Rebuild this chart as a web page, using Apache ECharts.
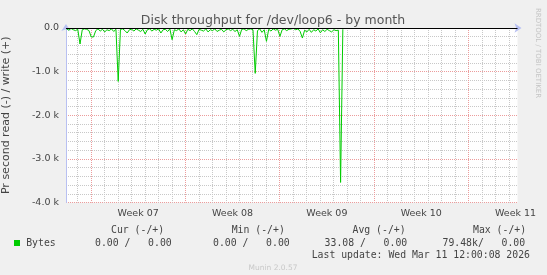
<!DOCTYPE html>
<html><head><meta charset="utf-8">
<script src="https://cdn.jsdelivr.net/npm/echarts@6/dist/echarts.min.js"></script>
<style>html,body{margin:0;padding:0;background:#f0f0f0}#c{width:547px;height:275px}</style>
</head><body><div id="c"></div>
<script>
// ---- data ----
const titleText = 'Disk throughput for /dev/loop6 - by month';
const yAxisName = 'Pr second read (-) / write (+)';
const weekLabels = ['Week 07', 'Week 08', 'Week 09', 'Week 10', 'Week 11'];
const weekStarts = [1.855, 8.855, 15.855, 22.855, 29.855]; // days from left plot edge
const xMax = 33.5;                       // days shown
const yTicks = [0, -1000, -2000, -3000, -4000];
const sampleStart = 0.04;                // days
const sampleStep = 1 / 6;                // 4 hour samples
const readBytes = [
  -20, -50, -10, -40, -60, -30, -367, -40, -20, -30,
  -60, -206, -206, -60, -20, -70, -30, -90, -40, -60,
  -20, -80, -30, -1225, -30, -20, -60, -115, -40, -30,
  -70, -20, -50, -80, -30, -138, -40, -20, -70, -30,
  -50, -20, -115, -40, -30, -80, -20, -268, -40, -60,
  -20, -90, -40, -138, -30, -60, -20, -80, -153, -30,
  -50, -70, -20, -90, -40, -60, -20, -80, -50, -30,
  -90, -40, -20, -60, -30, -80, -40, -192, -30, -20,
  -60, -30, -20, -40, -1040, -60, -20, -100, -40, -306,
  -30, -70, -20, -50, -30, -192, -40, -20, -60, -30,
  -20, -10, -40, -20, -80, -230, -50, -90, -30, -100,
  -40, -70, -20, -110, -40, -80, -30, -60, -90, -40,
  -60, -50, -3540, -30
];
const legendName = 'Bytes';
const legendHeaders = ['Cur (-/+)', 'Min (-/+)', 'Avg (-/+)', 'Max (-/+)'];
const legendValues = ['0.00 /   0.00', '0.00 /   0.00', '33.08 /   0.00', '79.48k/   0.00'];
const lastUpdate = 'Last update: Wed Mar 11 12:00:08 2026';
const muninVersion = 'Munin 2.0.57';
const rrdText = 'RRDTOOL / TOBI OETIKER';

// ---- derived ----
const seriesData = readBytes.map((v, i) => [sampleStart + i * sampleStep, v]);
const weekMids = weekStarts.map(w => w + 3.5);
const dayLines = [];
for (let d = weekStarts[0] - 7; d <= xMax; d += 1) {
  if (d >= 0 && !weekStarts.some(w => Math.abs(w - d) < 1e-6)) dayLines.push(d);
}

const txt = '#444';
const sans = 'DejaVu Sans';
const axisColor = '#b8c0f2';
const minorColor = '#c8c8c8';
const majorColor = '#ec9c9c';

const chart = echarts.init(document.getElementById('c'), null, {renderer: 'canvas'});
const monoText = (x, y, s, align) => ({
  type: 'text', x: x, y: y,
  style: {text: s, fill: txt, font: '9.8px "DejaVu Sans Mono"', textAlign: align || 'left', textVerticalAlign: 'middle'}
});
const graphics = [
  {type: 'text', x: 273, y: 20.5, style: {text: titleText, fill: '#555', font: '12.5px "DejaVu Sans"', textAlign: 'center', textVerticalAlign: 'middle'}},
  {type: 'text', x: 538, y: 53, rotation: -Math.PI / 2, style: {text: rrdText, fill: '#c4c4c4', font: '7px "DejaVu Sans"', textAlign: 'center', textVerticalAlign: 'middle'}},
  {type: 'rect', shape: {x: 14, y: 240, width: 6, height: 6}, style: {fill: '#00cc00'}},
  monoText(26.2, 243, legendName),
  monoText(111, 230.5, legendHeaders[0]),
  monoText(231.7, 230.5, legendHeaders[1]),
  monoText(352.5, 230.5, legendHeaders[2]),
  monoText(473, 230.5, legendHeaders[3]),
  monoText(95, 243, legendValues[0]),
  monoText(213, 243, legendValues[1]),
  monoText(324.6, 243, legendValues[2]),
  monoText(442.5, 243, legendValues[3]),
  monoText(311.7, 255.3, lastUpdate),
  {type: 'text', x: 273, y: 268, style: {text: muninVersion, fill: '#c8c8c8', font: '7.5px "DejaVu Sans"', textAlign: 'center', textVerticalAlign: 'middle'}}
];

const hiddenX = (ticks, color) => ({
  type: 'value', min: 0, max: xMax, position: 'bottom',
  axisLine: {show: false}, axisLabel: {show: false},
  axisTick: {show: false, customValues: ticks},
  splitLine: {show: true, lineStyle: {color: color, width: 1, type: [1, 1]}}
});

chart.setOption({
  backgroundColor: '#f0f0f0',
  animation: false,
  grid: {left: 66, top: 28, width: 451.5, height: 174.5, show: true, backgroundColor: '#ffffff', borderWidth: 0,
         containLabel: false, outerBoundsMode: 'none'},
  graphic: graphics,
  xAxis: [
    {
      type: 'value', min: 0, max: xMax,
      axisLine: {show: true, lineStyle: {color: axisColor, width: 1}, symbol: ['none', 'arrow'], symbolSize: [7, 7], symbolOffset: [0, 4]},
      axisTick: {show: false},
      splitLine: {show: false},
      axisLabel: {
        customValues: weekMids, margin: 6, fontSize: 9.5, color: txt, fontFamily: sans,
        formatter: v => {
          let best = 0;
          weekMids.forEach((m, i) => { if (Math.abs(m - v) < Math.abs(weekMids[best] - v)) best = i; });
          return weekLabels[best];
        }
      }
    },
    hiddenX(dayLines, minorColor),
    hiddenX(weekStarts, majorColor)
  ],
  yAxis: {
    type: 'value', min: yTicks[yTicks.length - 1], max: yTicks[0], interval: 1000,
    name: yAxisName, nameLocation: 'middle', nameGap: 54,
    nameTextStyle: {fontSize: 11, color: txt, fontFamily: sans},
    axisLine: {show: true, lineStyle: {color: axisColor, width: 1}, symbol: ['none', 'arrow'], symbolSize: [7, 7], symbolOffset: [0, 4]},
    axisTick: {show: false},
    axisLabel: {
      margin: 7, fontSize: 9.5, color: txt, fontFamily: sans,
      formatter: v => v === 0 ? '0.0' : (v / 1000).toFixed(1) + ' k'
    },
    splitLine: {show: true, lineStyle: {color: majorColor, width: 1, type: [1, 1]}},
    minorTick: {show: false, splitNumber: 5},
    minorSplitLine: {show: true, lineStyle: {color: minorColor, width: 1, type: [1, 1]}}
  },
  series: [{
    type: 'line', xAxisIndex: 0, data: seriesData, symbol: 'none', showSymbol: false,
    lineStyle: {color: '#00cc00', width: 1}, itemStyle: {color: '#00cc00'}, z: 3,
    markLine: {
      silent: true, symbol: 'none', label: {show: false},
      lineStyle: {color: '#000000', width: 1, type: 'solid'},
      emphasis: {disabled: true},
      data: [{yAxis: 0}]
    }
  }]
});
</script></body></html>
